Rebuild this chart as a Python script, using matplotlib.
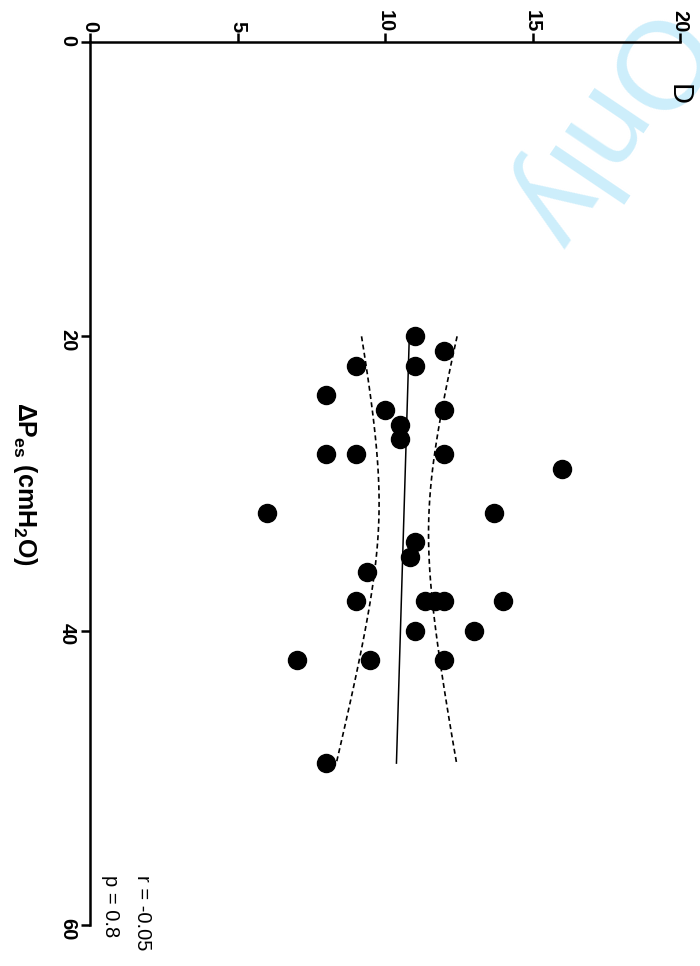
import numpy as np
import matplotlib
matplotlib.use('Agg')
import matplotlib.pyplot as plt

# data (x: delta Pes, y: value on the other axis)
delta_pes = [20, 21, 22, 22, 24, 25, 25, 26, 27, 28, 28, 28, 29, 32, 32, 34, 35, 36,
             38, 38, 38, 38, 38, 40, 40, 42, 42, 42, 49]
y_vals = [11, 12, 9, 11, 8, 10, 12, 10.5, 10.5, 8, 9, 12, 16, 6, 13.7, 11, 10.85, 9.4,
          9, 11.35, 11.7, 12, 14, 11, 13, 7, 9.5, 12, 8]
x_ticks = [0, 20, 40, 60]
y_ticks = [0, 5, 10, 15, 20]
stats_text = ['r = -0.05', 'p = 0.8']

plt.rcParams['mathtext.default'] = 'regular'

x = np.array(delta_pes, dtype=float)
y = np.array(y_vals, dtype=float)

# linear fit and 95% confidence band for the mean
n = len(x)
b, a = np.polyfit(x, y, 1)
resid = y - (a + b * x)
s = np.sqrt(np.sum(resid ** 2) / (n - 2))
sxx = np.sum((x - x.mean()) ** 2)
t_val = 2.052
xs = np.linspace(x.min(), x.max(), 100)
fit = a + b * xs
half = t_val * s * np.sqrt(1.0 / n + (xs - x.mean()) ** 2 / sxx)

fig = plt.figure(figsize=(7, 9.66), dpi=100)
ax = fig.add_axes([90 / 700, 1 - 925 / 966, 590 / 700, 883 / 966])
ax.set_facecolor('none')

# watermark
fig.text(598 / 700, 1 - 128 / 966, 'Only', rotation=-124, rotation_mode='anchor',
         ha='center', va='center', fontsize=90, color='#cdeefb', zorder=-1,
         family='Liberation Sans')

ax.plot(y, x, 'o', color='black', ms=13, zorder=3)
ax.plot(fit, xs, color='black', lw=1.1)
ax.plot(fit - half, xs, color='black', lw=1.2, ls=(0, (3, 2)))
ax.plot(fit + half, xs, color='black', lw=1.2, ls=(0, (3, 2)))

ax.set_xlim(0, 20)
ax.set_ylim(60, 0)
ax.xaxis.tick_top()
ax.set_xticks(y_ticks)
ax.set_yticks(x_ticks)
ax.spines['right'].set_visible(False)
ax.spines['bottom'].set_visible(False)
for sp in ['left', 'top']:
    ax.spines[sp].set_linewidth(1.8)
ax.tick_params(direction='out', length=6.5, width=1.8, labelsize=14.5)
ax.tick_params(axis='x', pad=0.5)
ax.tick_params(axis='y', pad=3)
for lab in ax.get_xticklabels() + ax.get_yticklabels():
    lab.set_rotation(-90)
    lab.set_fontweight('bold')
    lab.set_family('Liberation Sans')

ax.set_ylabel(r'$\Delta P_{es}$ (cmH$_2$O)', rotation=-90, fontsize=18,
              fontweight='bold', va='center', ha='center', family='Liberation Sans')
ax.yaxis.set_label_coords(-65 / 590, 0.5)

ax.text(1.78, 56.6, stats_text[0], rotation=-90, rotation_mode='anchor',
        ha='left', va='center', fontsize=14.5, family='Liberation Sans')
ax.text(0.7, 56.6, stats_text[1], rotation=-90, rotation_mode='anchor',
        ha='left', va='center', fontsize=14.5, family='Liberation Sans')
ax.text(19.95, 3.6, 'D', rotation=-90, rotation_mode='anchor',
        ha='center', va='center', fontsize=21, family='Liberation Sans')

fig.savefig('out.png', dpi=100)
